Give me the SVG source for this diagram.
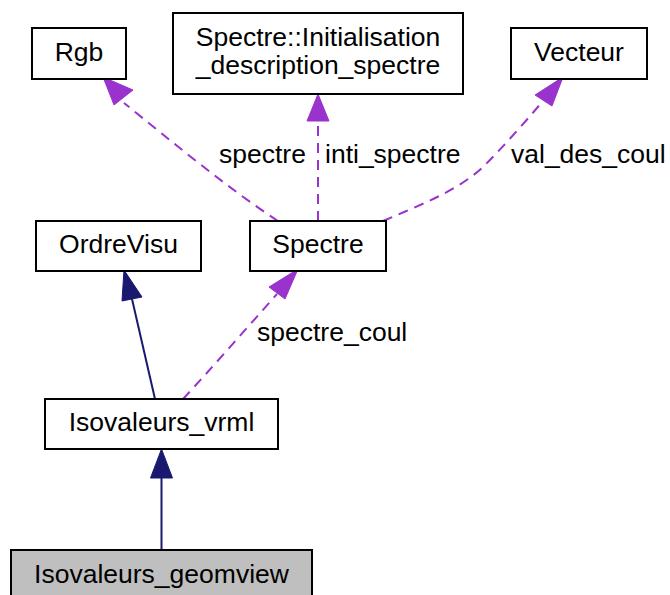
<svg xmlns="http://www.w3.org/2000/svg" width="670" height="595" viewBox="0 0 670 595">
  <style>
    .node rect { fill: #ffffff; stroke: #000000; stroke-width: 2; }
    .node.focus rect { fill: #bfbfbf; }
    text { font-family: "Liberation Sans", Arial, sans-serif; font-size: 26.5px; fill: #000000; }
    .node text { text-anchor: middle; }
    .inh { fill: none; stroke: #191970; stroke-width: 2; }
    .use { fill: none; stroke: #9a32cd; stroke-width: 2; stroke-dasharray: 10 7; }
    .head-use { fill: #9a32cd; stroke: #9a32cd; stroke-width: 1; }
    .head-inh { fill: #191970; stroke: #191970; stroke-width: 1; }
  </style>

  <g id="connectors">
    <!-- usage edges (dashed) -->
    <path class="use" d="M278,221 C230,190 170,140 124,103"/>
    <path class="head-use" d="M103,77 L133,90 L114,105 Z"/>
    <path class="use" d="M318,221 L318,121"/>
    <path class="head-use" d="M318,94 L329,121 L307,121 Z"/>
    <path class="use" d="M383,221 C420,205 460,190 485,165 C505,145 525,122 543,101"/>
    <path class="head-use" d="M563,77 L552,106 L535,95 Z"/>
    <path class="use" d="M183,399 C210,370 245,330 277,294"/>
    <path class="head-use" d="M298,269 L285,299 L269,287 Z"/>
    <!-- inheritance edges (solid) -->
    <path class="inh" d="M155,399 L132,299"/>
    <path class="head-inh" d="M124,270 L142,297 L122,301 Z"/>
    <path class="inh" d="M161.5,550 L161.5,477"/>
    <path class="head-inh" d="M161.5,449 L172.5,478 L150.5,478 Z"/>
  </g>

  <g id="labels">
    <text x="219" y="163">spectre</text>
    <text x="325" y="163">inti_spectre</text>
    <text x="511" y="163">val_des_coul</text>
    <text x="257" y="341">spectre_coul</text>
  </g>

  <g id="node-rgb" class="node">
    <rect x="32" y="28" width="94" height="51"/>
    <text x="79" y="61">Rgb</text>
  </g>
  <g id="node-init" class="node">
    <rect x="173" y="13" width="290" height="81"/>
    <text x="318" y="46">Spectre::Initialisation</text>
    <text x="318" y="74">_description_spectre</text>
  </g>
  <g id="node-vecteur" class="node">
    <rect x="511" y="28" width="136" height="51"/>
    <text x="579" y="61">Vecteur</text>
  </g>
  <g id="node-ordrevisu" class="node">
    <rect x="36" y="221" width="165" height="50"/>
    <text x="118.5" y="253">OrdreVisu</text>
  </g>
  <g id="node-spectre" class="node">
    <rect x="250" y="221" width="136" height="50"/>
    <text x="318" y="253">Spectre</text>
  </g>
  <g id="node-isovrml" class="node">
    <rect x="45" y="399" width="233" height="50"/>
    <text x="161.5" y="431">Isovaleurs_vrml</text>
  </g>
  <g id="node-isogeom" class="node focus">
    <rect x="11" y="550" width="301" height="50"/>
    <text x="161.5" y="583">Isovaleurs_geomview</text>
  </g>
</svg>
